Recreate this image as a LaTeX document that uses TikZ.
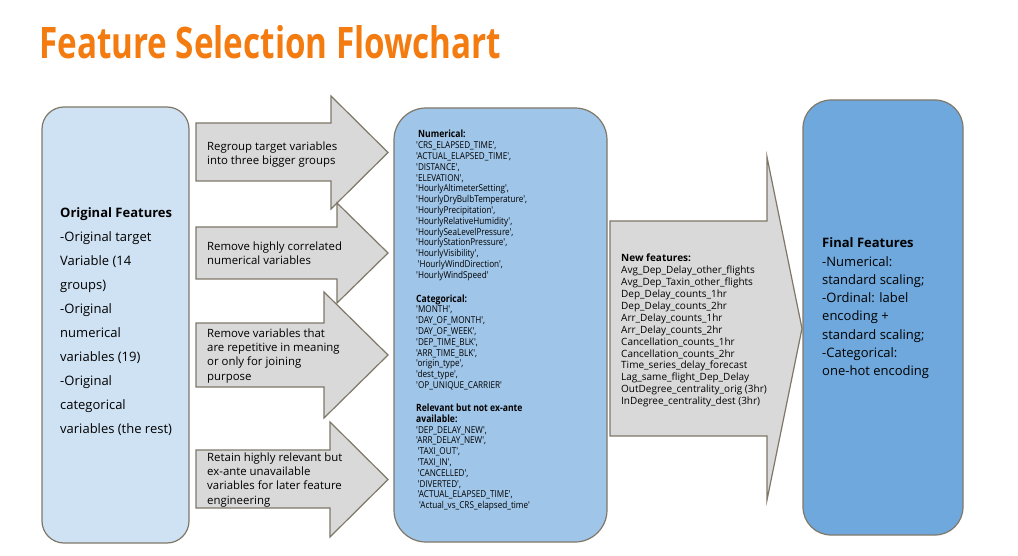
\documentclass[tikz,border=0pt]{standalone}
\usepackage{fontspec}
\setmainfont{Open Sans}
\newfontfamily\narrowfont[FakeStretch=0.86]{Open Sans}
\usepackage{graphicx}
\definecolor{titleorange}{HTML}{F37B0F}
\definecolor{lightblue}{HTML}{CFE2F3}
\definecolor{midblue}{HTML}{9FC5E8}
\definecolor{darkblue}{HTML}{6FA8DC}
\definecolor{arrowgray}{HTML}{D9D9D9}
\definecolor{edgegray}{HTML}{7F7869}
\begin{document}
\begin{tikzpicture}[x=1pt,y=-1pt,
  boxshape/.style={draw=edgegray, line width=1.2pt, rectangle, inner sep=0pt},
  blockarrow/.style={draw=edgegray, line width=1.2pt, fill=arrowgray, line join=miter},
  txt/.style={anchor=north west, inner sep=0pt, align=left, text=black},
]
\useasboundingbox (0,0) rectangle (1018,556);
\fill[white] (0,0) rectangle (1018,556);

% title
\node (title) [anchor=base west, inner sep=0pt, text=titleorange]
  at (39,59) {\resizebox{462pt}{33pt}{\bfseries Feature Selection Flowchart}};

% boxes
\node (orig) [boxshape, fill=lightblue, rounded corners=22pt,
  minimum width=147pt, minimum height=436pt] at (115.5,325) {};
\node (mid) [boxshape, fill=midblue, rounded corners=32pt,
  minimum width=213pt, minimum height=434pt] at (500.5,325) {};
\node (final) [boxshape, fill=darkblue, rounded corners=28pt,
  minimum width=160pt, minimum height=435pt] at (883,317.5) {};

% small arrows
\draw[blockarrow] (196,123) -- (331,123) -- (331,96) -- (388,152.5) -- (331,209) -- (331,181) -- (196,181) -- cycle;
\draw[blockarrow] (196,227) -- (337,227) -- (337,203) -- (388,253) -- (337,303) -- (337,279) -- (196,279) -- cycle;
\draw[blockarrow] (196,323) -- (324,323) -- (324,292) -- (388,355) -- (324,418) -- (324,387) -- (196,387) -- cycle;
\draw[blockarrow] (196,450) -- (330,450) -- (330,422) -- (388,479.5) -- (330,537) -- (330,508) -- (196,508) -- cycle;

% big arrow
\draw[blockarrow] (610,221) -- (767,221) -- (767,157) -- (802,328.5) -- (767,500) -- (767,436) -- (610,436) -- cycle;

% texts
\node (origtxt) [txt, font={\fontsize{13}{24}\selectfont}] at (60,207.7) {%
  \textbf{Original Features}\\
  -Original target\\
  Variable (14\\
  groups)\\
  -Original\\
  numerical\\
  variables (19)\\
  -Original\\
  categorical\\
  variables (the rest)};

\node (a1txt) [txt, font={\fontsize{11.4}{14.3}\selectfont}] at (207,141.3) {%
  Regroup target variables\\ into three bigger groups};
\node (a2txt) [txt, font={\fontsize{11.4}{14.3}\selectfont}] at (207,241.3) {%
  Remove highly correlated\\ numerical variables};
\node (a3txt) [txt, font={\fontsize{11.4}{14.3}\selectfont}] at (207,328.3) {%
  Remove variables that\\ are repetitive in meaning\\ or only for joining\\ purpose};
\node (a4txt) [txt, font={\fontsize{11.4}{14.3}\selectfont}] at (207,452.3) {%
  Retain highly relevant but\\ ex-ante unavailable\\ variables for later feature\\ engineering};

\node (midtxt) [txt, font={\narrowfont\fontsize{9.5}{10.8}\selectfont}] at (416,130) {%
  {\fontsize{10}{10.8}\selectfont\bfseries\hspace{2pt}Numerical:}\\
  'CRS\_ELAPSED\_TIME',\\
  'ACTUAL\_ELAPSED\_TIME',\\
  'DISTANCE',\\
  'ELEVATION',\\
  'HourlyAltimeterSetting',\\
  'HourlyDryBulbTemperature',\\
  'HourlyPrecipitation',\\
  'HourlyRelativeHumidity',\\
  'HourlySeaLevelPressure',\\
  'HourlyStationPressure',\\
  'HourlyVisibility',\\
  \hspace{1.5pt}'HourlyWindDirection',\\
  'HourlyWindSpeed'\\[13.2pt]
  {\fontsize{10}{10.8}\selectfont\bfseries Categorical:}\\
  'MONTH',\\
  'DAY\_OF\_MONTH',\\
  'DAY\_OF\_WEEK',\\
  'DEP\_TIME\_BLK',\\
  'ARR\_TIME\_BLK',\\
  'origin\_type',\\
  'dest\_type',\\
  'OP\_UNIQUE\_CARRIER'\\[12.2pt]
  {\fontsize{10}{12}\selectfont\bfseries Relevant but not ex-ante}\\
  {\fontsize{10}{10.8}\selectfont\bfseries available:}\\
  'DEP\_DELAY\_NEW',\\
  'ARR\_DELAY\_NEW',\\
  \hspace{1.5pt}'TAXI\_OUT',\\
  \hspace{1.5pt}'TAXI\_IN',\\
  \hspace{1.5pt}'CANCELLED',\\
  \hspace{1.5pt}'DIVERTED',\\
  \hspace{1.5pt}'ACTUAL\_ELAPSED\_TIME',\\
  \hspace{3pt}'Actual\_vs\_CRS\_elapsed\_time'};

\node (newtxt) [txt, font={\fontsize{10}{11.9}\selectfont}] at (621,254) {%
  \textbf{New features:}\\
  Avg\_Dep\_Delay\_other\_flights\\
  Avg\_Dep\_Taxin\_other\_flights\\
  Dep\_Delay\_counts\_1hr\\
  Dep\_Delay\_counts\_2hr\\
  Arr\_Delay\_counts\_1hr\\
  Arr\_Delay\_counts\_2hr\\
  Cancellation\_counts\_1hr\\
  Cancellation\_counts\_2hr\\
  Time\_series\_delay\_forecast\\
  Lag\_same\_flight\_Dep\_Delay\\
  OutDegree\_centrality\_orig (3hr)\\
  InDegree\_centrality\_dest (3hr)};

\node (finaltxt) [txt, font={\fontsize{13}{18.3}\selectfont}] at (822,237.7) {%
  \textbf{Final Features}\\
  -Numerical:\\
  standard scaling;\\
  -Ordinal: label\\
  encoding +\\
  standard scaling;\\
  -Categorical:\\
  one-hot encoding};
\end{tikzpicture}
\end{document}
